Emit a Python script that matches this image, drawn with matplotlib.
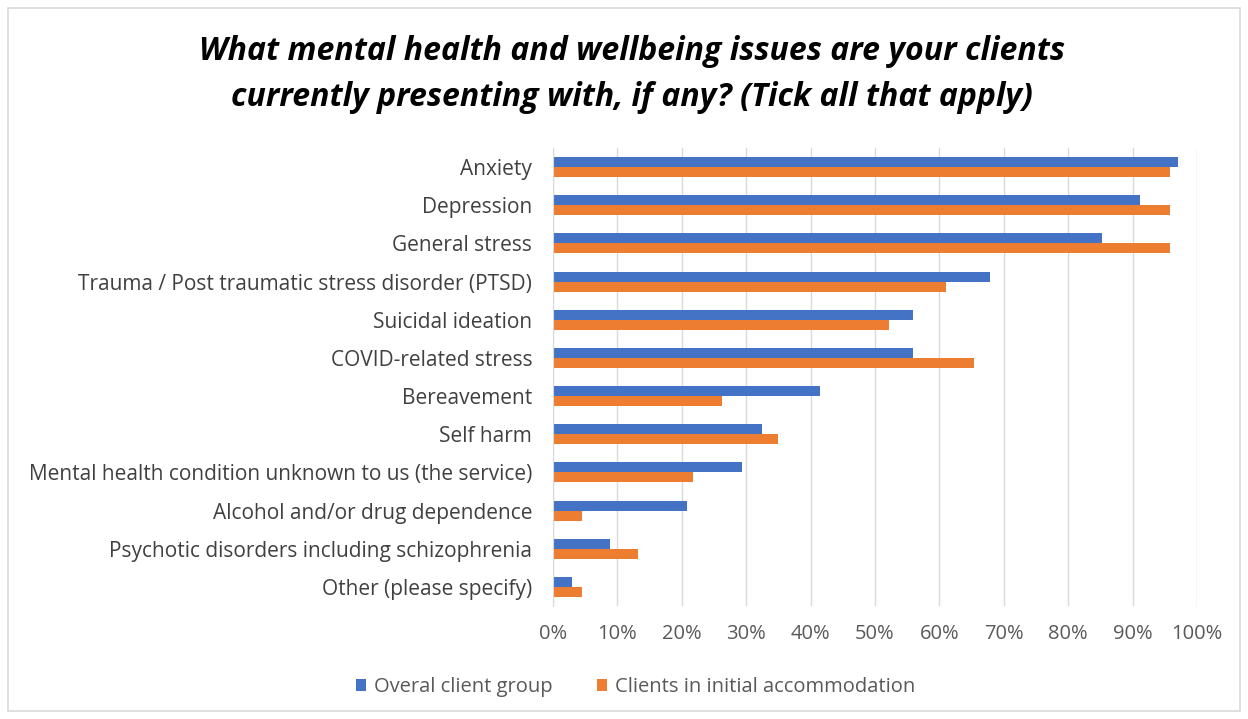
import numpy as np
import matplotlib.pyplot as plt
from matplotlib.patches import Rectangle

# categories, top to bottom
categories = [
    "Anxiety",
    "Depression",
    "General stress",
    "Trauma / Post traumatic stress disorder (PTSD)",
    "Suicidal ideation",
    "COVID-related stress",
    "Bereavement",
    "Self harm",
    "Mental health condition unknown to us (the service)",
    "Alcohol and/or drug dependence",
    "Psychotic disorders including schizophrenia",
    "Other (please specify)",
]
overall = [97.0, 91.1, 85.3, 67.8, 55.9, 55.9, 41.5, 32.4, 29.4, 20.8, 8.8, 3.0]
initial = [95.8, 95.8, 95.8, 61.1, 52.1, 65.3, 26.3, 34.9, 21.7, 4.5, 13.2, 4.5]
xticks = list(range(0, 101, 10))

blue = '#4472C4'
orange = '#ED7D31'
font = 'Open Sans'

fig = plt.figure(figsize=(12.48, 7.19), dpi=100)
W, H = 1248, 719

# outer chart frame
fig.patches.append(Rectangle((8 / W, 8 / H), 1 - 16 / W, 1 - 16 / H, transform=fig.transFigure,
                             fill=False, edgecolor='#d9d9d9', linewidth=1.2))

ax = fig.add_axes([553 / W, 1 - 606 / H, (1197 - 553) / W, (606 - 148) / H])

y = np.arange(len(categories))
h = 0.26
ax.barh(y - h / 2, overall, height=h, color=blue, label='Overal client group')
ax.barh(y + h / 2, initial, height=h, color=orange, label='Clients in initial accommodation')

ax.set_ylim(len(categories) - 0.5, -0.5)
ax.set_xlim(0, 100)
ax.set_xticks(xticks)
ax.set_xticklabels([f'{t}%' for t in xticks], fontsize=14.5, color='#595959', family=font)
ax.set_yticks(y)
ax.set_yticklabels(categories, fontsize=15, color='#404040', family=font)
ax.tick_params(length=0)
ax.tick_params(axis='y', pad=15)
ax.tick_params(axis='x', pad=13)

ax.grid(axis='x', color='#d9d9d9', linewidth=1)
ax.set_axisbelow(True)
for s in ['top', 'right', 'bottom']:
    ax.spines[s].set_visible(False)
ax.spines['left'].set_color('#d9d9d9')

fig.text(632 / W, 1 - 52 / H, "What mental health and wellbeing issues are your clients",
         ha='center', va='center', fontsize=23, fontweight='bold', style='italic', family=font)
fig.text(632 / W, 1 - 98 / H, "currently presenting with, if any? (Tick all that apply)",
         ha='center', va='center', fontsize=23, fontweight='bold', style='italic', family=font)

fig.legend(loc='center', bbox_to_anchor=(636 / W, 1 - 687 / H), ncol=2, frameon=False,
           prop={'family': font, 'size': 14.5}, handlelength=0.5, handleheight=0.5,
           columnspacing=2.2, handletextpad=0.4, labelcolor='#595959')

fig.savefig('out.png', dpi=100)
